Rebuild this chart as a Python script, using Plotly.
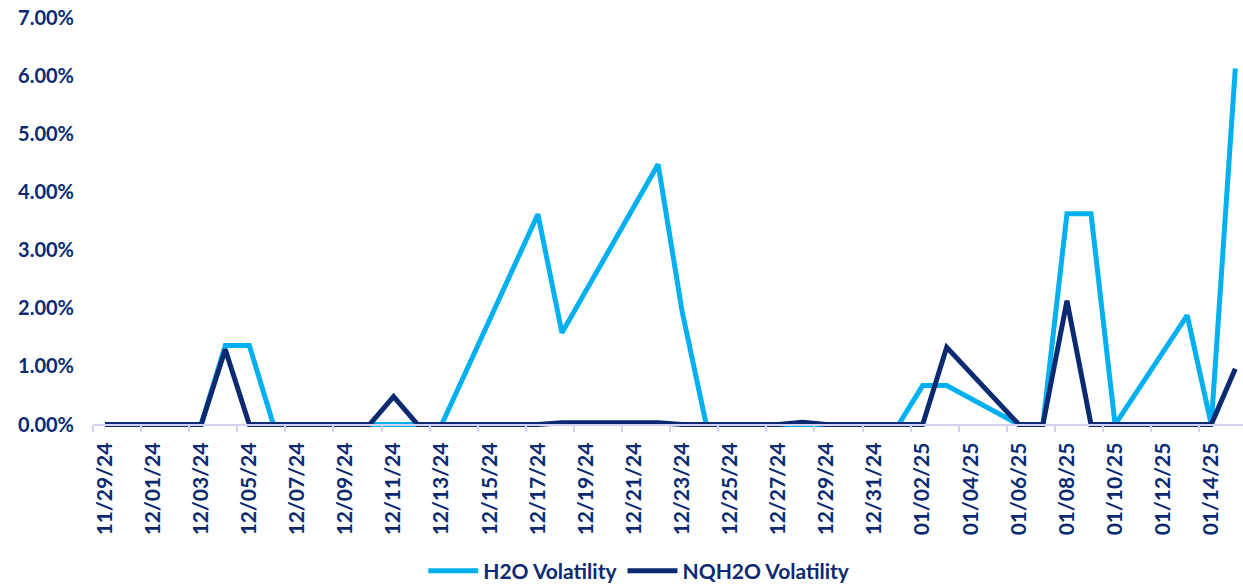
import pandas as pd
import plotly.graph_objects as go

# Daily dates 11/29/24 .. 01/15/25
dates = pd.date_range("2024-11-29", "2025-01-15", freq="D")

# Values in percent (None = no data point; line connects across)
h2o_vol = [0, 0, 0, 0, 0, 1.36, 1.36, 0, 0, 0,
           0, 0, 0, 0, 0, None, None, None, 3.62, 1.58,
           None, None, None, 4.48, 1.94, 0, 0, 0, 0, 0.02,
           0, 0, 0, 0, 0.67, 0.67, None, None, 0, 0,
           3.63, 3.63, 0, None, None, 1.88, 0, 6.13]
nqh2o_vol = [0, 0, 0, 0, 0, 1.29, 0, 0, 0, 0,
             0, 0, 0.48, 0, 0, 0, 0, 0, 0, 0.03,
             0.03, 0.03, 0.03, 0.03, 0, 0, 0, 0, 0, 0.04,
             0, 0, 0, 0, 0, 1.33, None, None, 0, 0,
             2.13, 0, 0, 0, 0, 0, 0, 0.96]

tick_dates = dates[::2]
tick_labels = [d.strftime("%m/%d/%y") for d in tick_dates]

NAVY = "#0B2A72"
LIGHT = "#00B0F0"
AXIS = "#D4D2F0"
FONT = "Lato"

def frac(vals):
    return [None if v is None else v / 100 for v in vals]

fig = go.Figure()
fig.add_trace(go.Scatter(x=dates, y=frac(h2o_vol), mode="lines", name="H2O Volatility",
                         line=dict(color=LIGHT, width=5), connectgaps=True))
fig.add_trace(go.Scatter(x=dates, y=frac(nqh2o_vol), mode="lines", name="NQH2O Volatility",
                         line=dict(color=NAVY, width=5), connectgaps=True))

ymin = -0.0006
ymax = 0.07
xstart = dates[0] - pd.Timedelta(hours=12)
xend = dates[0] + pd.Timedelta(days=47.32)

fig.update_layout(
    width=1243, height=586,
    margin=dict(l=93, r=0, t=18, b=158, autoexpand=False),
    paper_bgcolor="white", plot_bgcolor="white",
    showlegend=True,
    legend=dict(orientation="h", x=0.475, xanchor="center", y=-0.349, yanchor="middle",
                font=dict(family=FONT, size=21, color=NAVY, weight="bold"),
                itemwidth=50, tracegroupgap=0),
    font=dict(family=FONT, color=NAVY),
)
fig.update_xaxes(
    type="date", range=[xstart, xend],
    anchor="free", position=(-ymin) / (ymax - ymin),
    tickmode="array",
    tickvals=[d - pd.Timedelta(hours=12) for d in tick_dates],
    ticktext=tick_labels,
    tickangle=-90, ticklabelshift=12, ticklabelstandoff=2,
    ticks="outside", ticklen=7, tickcolor=AXIS, tickwidth=1.5,
    showline=True, linecolor=AXIS, linewidth=1.5,
    showgrid=False, zeroline=False,
    tickfont=dict(family=FONT, size=21, color=NAVY, weight="bold"),
)
fig.update_yaxes(
    range=[ymin, ymax], tickmode="array",
    tickvals=[0, 0.01, 0.02, 0.03, 0.04, 0.05, 0.06, 0.07],
    tickformat=".2%",
    showgrid=False, zeroline=False, showline=False, ticks="",
    ticklabelstandoff=18,
    tickfont=dict(family=FONT, size=20, color=NAVY, weight="bold"),
)

fig.write_html("out.html")
